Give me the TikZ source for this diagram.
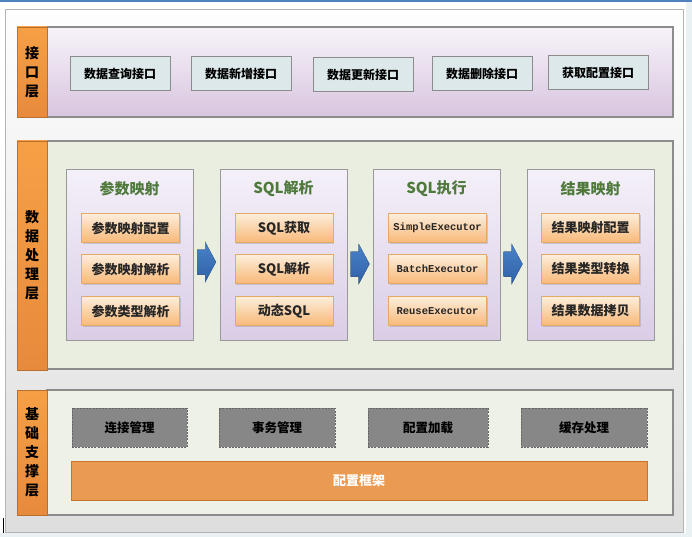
\documentclass[tikz,border=0pt]{standalone}
\usepackage{fontspec}
\newfontfamily\cjk{Noto Sans CJK SC}
\newfontfamily\monofam{Liberation Mono}
\usetikzlibrary{shadows}

\definecolor{topblue}{HTML}{4F81BD}
\definecolor{framegray}{HTML}{B4B4B4}
\definecolor{panelline}{HTML}{8C8C8C}
\definecolor{stripA}{HTML}{F6A045}
\definecolor{stripB}{HTML}{E88A3C}
\definecolor{titlegreen}{HTML}{4F7A3C}
\definecolor{flowblue}{HTML}{3B70B8}
\definecolor{barorange}{HTML}{EB9A52}

\tikzset{
  outerframe/.style={draw=framegray, line width=1pt, top color=white!90!black!5, bottom color=black!13, inner sep=0pt},
  layerstrip/.style={draw=stripB!80!black, line width=0.5pt, top color=stripA, bottom color=stripB,
    minimum width=30pt, inner sep=0pt, align=center,
    font=\cjk\bfseries\fontsize{14}{19}\selectfont, text=black},
  layerpanel/.style={draw=panelline, line width=1.2pt, inner sep=0pt, minimum width=626pt},
  ifbox/.style={draw=black!45, line width=1pt, fill=HTML-dce8e9, minimum width=100pt, minimum height=34pt,
    font=\cjk\bfseries\fontsize{12}{14}\selectfont, inner sep=0pt},
  grouppanel/.style={draw=black!40, line width=1pt, top color=HTML-f4f0f9, bottom color=HTML-dacde6,
    minimum width=127pt, minimum height=170pt, inner sep=0pt,
    drop shadow={opacity=0.25, shadow xshift=1.2pt, shadow yshift=-1.2pt}},
  grouptitle/.style={font=\cjk\bfseries\fontsize{15}{17}\selectfont, text=titlegreen},
  itembox/.style={draw=HTML-e3a968, line width=0.6pt, top color=HTML-fdeedc, bottom color=HTML-f8b878,
    minimum width=98pt, minimum height=29pt, inner sep=0pt,
    font=\cjk\bfseries\fontsize{13}{15}\selectfont, text=black!85,
    drop shadow={opacity=0.3, shadow xshift=1pt, shadow yshift=-1.2pt}},
  execbox/.style={itembox, font=\monofam\bfseries\fontsize{10.5}{12}\selectfont},
  flowarrow/.style={top color=HTML-4a82c8, bottom color=HTML-2f60a8, draw=none},
  basebox/.style={draw=black!60, dashed, dash pattern=on 2pt off 1.2pt, line width=0.8pt, fill=HTML-878787,
    minimum height=39pt, inner sep=0pt, font=\cjk\bfseries\fontsize{12.5}{14}\selectfont, text=black},
  framebar/.style={draw=HTML-c8742c, line width=0.8pt, fill=barorange, minimum width=576pt, minimum height=39pt,
    inner sep=0pt, font=\cjk\bfseries\fontsize{13}{15}\selectfont, text=white},
}
\colorlet{HTML-dce8e9}{white}
\definecolor{HTML-dce8e9}{HTML}{DCE8E9}
\definecolor{HTML-f4f0f9}{HTML}{F4F0F9}
\definecolor{HTML-dacde6}{HTML}{DACDE6}
\definecolor{HTML-e3a968}{HTML}{E3A968}
\definecolor{HTML-fdeedc}{HTML}{FDEEDC}
\definecolor{HTML-f8b878}{HTML}{F8B878}
\definecolor{HTML-4a82c8}{HTML}{4A82C8}
\definecolor{HTML-2f60a8}{HTML}{2F60A8}
\definecolor{HTML-878787}{HTML}{878787}
\definecolor{HTML-c8742c}{HTML}{C8742C}
\definecolor{panelA}{HTML}{F7F3F9}
\definecolor{panelB}{HTML}{D8C5DF}
\definecolor{panelmid}{HTML}{E9EEE1}
\definecolor{panelbase}{HTML}{EEF1E6}

\begin{document}
\begin{tikzpicture}[x=1pt,y=-1pt]
\useasboundingbox (0,0) rectangle (692,537);
\fill[white] (0,0) rectangle (692,537);
% window edges
\fill[topblue] (0,0) rectangle (692,2.5);
\fill[HTML-dce8e9!60!white] (686,2.5) rectangle (692,537);
\fill[HTML-dce8e9!60!white] (0,533) rectangle (692,537);

% outer frame
\node[outerframe, minimum width=678pt, minimum height=522pt] (outer) at (344,271) {};

% ---------- interface layer ----------
\node[layerpanel, minimum height=90pt, top color=panelA, bottom color=panelB,
      drop shadow={opacity=0.25, shadow xshift=1.2pt, shadow yshift=-1.2pt}] (p1) at (360,72) {};
\node[layerstrip, minimum height=90pt] (s1) at (32,72) {接\\口\\层};

\node[ifbox] (i1) at (120,74) {数据查询接口};
\node[ifbox] (i2) at (241,74) {数据新增接口};
\node[ifbox] (i3) at (363,75) {数据更新接口};
\node[ifbox] (i4) at (482,74) {数据删除接口};
\node[ifbox] (i5) at (598,73) {获取配置接口};

% ---------- data processing layer ----------
\node[layerpanel, minimum height=228pt, fill=panelmid,
      drop shadow={opacity=0.25, shadow xshift=1.2pt, shadow yshift=-1.2pt}] (p2) at (360,255) {};
\node[layerstrip, minimum height=229pt] (s2) at (32,255.5) {数\\据\\处\\理\\层};

\node[grouppanel] (g1) at (129.5,255) {};
\node[grouppanel] (g2) at (283.5,255) {};
\node[grouppanel] (g3) at (436.5,255) {};
\node[grouppanel] (g4) at (590.5,255) {};

\node[grouptitle] (t1) at (129.5,189) {参数映射};
\node[grouptitle] (t2) at (283.5,189) {SQL解析};
\node[grouptitle] (t3) at (436.5,189) {SQL执行};
\node[grouptitle] (t4) at (590.5,189) {结果映射};

\node[itembox] (a1) at (130.5,228) {参数映射配置};
\node[itembox] (a2) at (130.5,269) {参数映射解析};
\node[itembox] (a3) at (130.5,311) {参数类型解析};

\node[itembox] (b1) at (284,228) {SQL获取};
\node[itembox] (b2) at (284,269) {SQL解析};
\node[itembox] (b3) at (284,311) {动态SQL};

\node[execbox] (c1) at (437.5,228) {SimpleExecutor};
\node[execbox] (c2) at (437.5,269) {BatchExecutor};
\node[execbox] (c3) at (437.5,311) {ReuseExecutor};

\node[itembox] (d1) at (590.5,228) {结果映射配置};
\node[itembox] (d2) at (590.5,269) {结果类型转换};
\node[itembox] (d3) at (590.5,311) {结果数据拷贝};

% block arrows between the processing stages
\coordinate (f1) at (206.5,262);
\coordinate (f2) at (360,264);
\coordinate (f3) at (513,264);
\foreach \f in {f1,f2,f3}
  \fill[flowarrow, shift={(\f)}] (-9.5,-12.5) -- (-1.5,-12.5) -- (-1.5,-20.5) -- (9.5,0)
     -- (-1.5,20.5) -- (-1.5,12.5) -- (-9.5,12.5) -- cycle;

% ---------- support layer ----------
\node[layerpanel, minimum height=125pt, fill=panelbase,
      drop shadow={opacity=0.25, shadow xshift=1.2pt, shadow yshift=-1.2pt}] (p3) at (360,452.5) {};
\node[layerstrip, minimum height=125pt] (s3) at (32,452.5) {基\\础\\支\\撑\\层};

\node[basebox, minimum width=115pt] (e1) at (129.5,427.5) {连接管理};
\node[basebox, minimum width=116pt] (e2) at (277,427.5) {事务管理};
\node[basebox, minimum width=120pt] (e3) at (428,427.5) {配置加载};
\node[basebox, minimum width=126pt] (e4) at (584,427.5) {缓存处理};

\node[framebar] (bar) at (359,480.5) {配置框架};

% text cursor mark at the lower left
\draw[line width=1.3pt] (3.5,518) -- (3.5,533);
\end{tikzpicture}
\end{document}
